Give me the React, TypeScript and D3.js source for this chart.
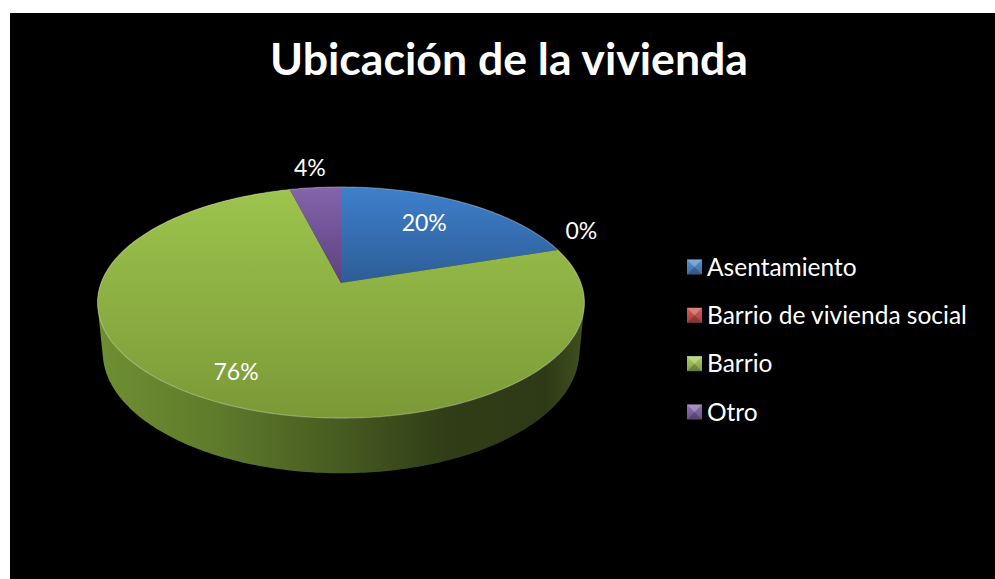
import React from "react";
import * as d3 from "d3";

const title = "Ubicación de la vivienda";
const categories = ["Asentamiento", "Barrio de vivienda social", "Barrio", "Otro"];
const values = [20, 0, 76, 4];
const valueLabels = ["20%", "0%", "76%", "4%"];
const baseColors = ["#4F81BD", "#C0504D", "#9BBB59", "#8064A2"];
const topLight = ["#3E80CC", "#D0524E", "#9DC44D", "#8464AC"];
const topDark = ["#2E5C97", "#9A3B39", "#7B9937", "#5C417E"];

// label layout (radius fraction of disc, angle tweak in degrees)
const labelLayout = [
  { r: 0.7, dt: -3 },
  { r: 1.2, dt: -7 },
  { r: 0.8, dt: 0 },
  { r: 1.25, dt: 0 },
];

const W = 995;
const H = 579;
const CX = 341;
const CY = 283;
const ALPHA = (27.9 * Math.PI) / 180;
const DIST = 5.23;
const FOCAL = 1255;
const THICK = 0.235;

function proj(x: number, y: number, z: number): [number, number] {
  const v = z * Math.sin(ALPHA) + y * Math.cos(ALPHA);
  const w = z * Math.cos(ALPHA) - y * Math.sin(ALPHA);
  return [CX + (FOCAL * x) / (DIST + w), CY - (FOCAL * v) / (DIST + w)];
}
function disc(t: number, r: number, y: number): [number, number] {
  return proj(r * Math.sin(t), y, r * Math.cos(t));
}

export default function App() {
  const pie = d3
    .pie<number>()
    .sort(null)
    .startAngle(0)
    .endAngle(2 * Math.PI)(values);
  const line = d3.line().curve(d3.curveLinear);

  const slices = pie.map((a, i) => {
    const pts: [number, number][] = [proj(0, 0, 0)];
    const n = Math.max(2, Math.ceil(((a.endAngle - a.startAngle) * 180) / Math.PI));
    for (let k = 0; k <= n; k++) {
      const t = a.startAngle + ((a.endAngle - a.startAngle) * k) / n;
      pts.push(disc(t, 1, 0));
    }
    return { d: line(pts) + "Z", i, empty: a.endAngle - a.startAngle < 1e-6 };
  });

  const allPts: [number, number][] = [];
  const rimPts: [number, number][] = [];
  for (let k = 0; k <= 360; k++) {
    const t = (k * Math.PI) / 180;
    allPts.push(disc(t, 1, 0));
    allPts.push(disc(t, 1, -THICK));
    rimPts.push(disc(t, 1, 0));
  }
  const hull = d3.polygonHull(allPts) || [];
  const sideD = line(hull) + "Z";
  const rimD = line(rimPts) + "Z";

  const xs = hull.map((p) => p[0]);
  const sx0 = d3.min(xs) || 0;
  const sx1 = d3.max(xs) || 0;

  const labelPos = pie.map((a, i) => {
    const mid = (a.startAngle + a.endAngle) / 2 + (labelLayout[i].dt * Math.PI) / 180;
    return disc(mid, labelLayout[i].r, 0);
  });

  const legendY = d3.scalePoint<string>().domain(categories).range([267, 412]);

  return (
    <svg
      width={W}
      height={H}
      style={{ position: "absolute", left: 0, top: 0 }}
      fontFamily="Lato, 'Open Sans', sans-serif"
    >
      <defs>
        {categories.map((c, i) => (
          <linearGradient key={c} id={`top${i}`} x1="0" y1="0" x2="0" y2="1">
            <stop offset="0%" stopColor={topLight[i]} />
            <stop offset="100%" stopColor={topDark[i]} />
          </linearGradient>
        ))}
        <linearGradient
          id="side"
          gradientUnits="userSpaceOnUse"
          x1={sx0}
          y1={0}
          x2={sx1}
          y2={0}
        >
          <stop offset="0%" stopColor="#6F8F33" />
          <stop offset="25%" stopColor="#5E7A2B" />
          <stop offset="50%" stopColor="#465B20" />
          <stop offset="72%" stopColor="#303D17" />
          <stop offset="92%" stopColor="#2E3A16" />
          <stop offset="100%" stopColor="#3F5020" />
        </linearGradient>
        {categories.map((c, i) => (
          <linearGradient key={c + "l"} id={`leg${i}`} x1="0" y1="0" x2="0" y2="1">
            <stop offset="0%" stopColor={d3.color(baseColors[i])!.brighter(0.3).toString()} />
            <stop offset="100%" stopColor={d3.color(baseColors[i])!.darker(0.5).toString()} />
          </linearGradient>
        ))}
      </defs>
      <rect x={0} y={0} width={W} height={H} fill="#ffffff" />
      <rect x={10} y={13} width={W - 10} height={H - 13} fill="#000000" />

      <text
        x={509}
        y={75}
        textAnchor="middle"
        fill="#ffffff"
        fontWeight="bold"
        fontSize={43}
        textLength={478}
        lengthAdjust="spacingAndGlyphs"
      >
        {title}
      </text>

      <path d={sideD} fill="url(#side)" />
      {slices
        .filter((s) => !s.empty)
        .map((s) => (
          <path key={s.i} d={s.d} fill={`url(#top${s.i})`} />
        ))}
      <path d={rimD} fill="none" stroke="rgba(255,255,255,0.28)" strokeWidth={1.2} />

      {labelPos.map((p, i) => (
        <text
          key={i}
          x={p[0]}
          y={p[1]}
          dy="0.35em"
          textAnchor="middle"
          fill="#ffffff"
          fontSize={23}
        >
          {valueLabels[i]}
        </text>
      ))}

      {categories.map((c, i) => {
        const y = legendY(c) || 0;
        const s = 15;
        const x0 = 687;
        const y0 = y - s / 2;
        return (
          <g key={c}>
            <rect x={x0} y={y0} width={s} height={s} fill={`url(#leg${i})`} />
            <path
              d={`M${x0},${y0}L${x0 + s},${y0}L${x0 + s / 2},${y0 + s / 2}Z`}
              fill="rgba(255,255,255,0.25)"
            />
            <path
              d={`M${x0},${y0 + s}L${x0 + s},${y0 + s}L${x0 + s / 2},${y0 + s / 2}Z`}
              fill="rgba(0,0,0,0.2)"
            />
            <text x={707} y={y} dy="0.35em" fill="#ffffff" fontSize={24.5}>
              {c}
            </text>
          </g>
        );
      })}
    </svg>
  );
}
